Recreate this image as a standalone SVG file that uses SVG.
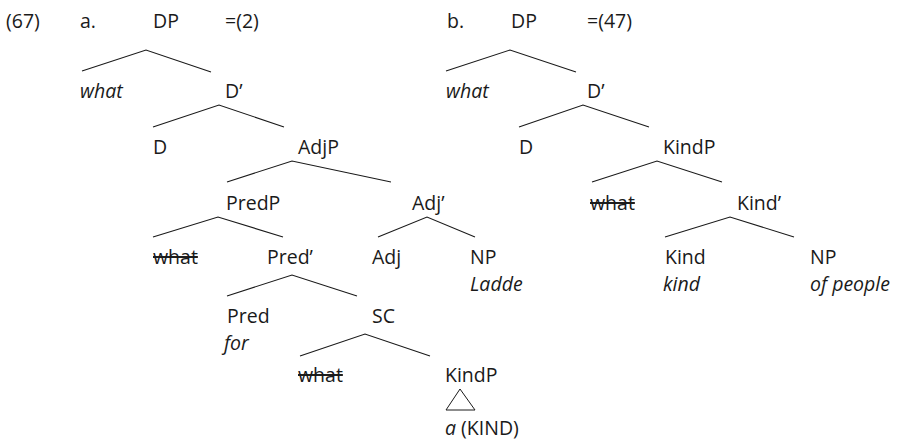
<svg xmlns="http://www.w3.org/2000/svg" width="897" height="442" viewBox="0 0 897 442">
<style>
text{font-family:"Open Sans","Noto Sans","Liberation Sans",sans-serif;font-size:19.5px;fill:#1a1a1a}
.it{font-style:italic}
.st{text-decoration:line-through}
.edge{fill:none;stroke:#1a1a1a;stroke-width:1.1}
.tri{fill:none;stroke:#1a1a1a;stroke-width:1}
</style>
<rect width="897" height="442" fill="#fff"/>
<g id="labels">
<text x="6" y="28">(67)</text>
<text x="80" y="28">a.</text>
<text x="447" y="28">b.</text>
</g>
<g id="connectors">
<polyline class="edge" points="82,71 146,50 211,72"/>
<polyline class="edge" points="153,127 219,105 284,127"/>
<polyline class="edge" points="227,182 292,161 391,182"/>
<polyline class="edge" points="153,237 218,217 283,237"/>
<polyline class="edge" points="378,237 427,217 475,237"/>
<polyline class="edge" points="227,296 292,275 357,296"/>
<polyline class="edge" points="300,356 365,334 430,356"/>
<polygon class="tri" points="460,389 446,410 475,410"/>
<polyline class="edge" points="446,71 510,50 576,72"/>
<polyline class="edge" points="519,127 583,105 649,127"/>
<polyline class="edge" points="592,182 657,161 722,182"/>
<polyline class="edge" points="665,237 730,217 794,237"/>
</g>
<g id="a-DP"><text x="153" y="28">DP</text><text x="225" y="28">=(2)</text></g>
<g id="a-what"><text class="it" x="80" y="98">what</text></g>
<g id="a-Dbar"><text x="225" y="98">D’</text></g>
<g id="a-D"><text x="153" y="154">D</text></g>
<g id="a-AdjP"><text x="298" y="154">AdjP</text></g>
<g id="a-PredP"><text x="226" y="210">PredP</text></g>
<g id="a-Adjbar"><text x="412" y="210">Adj’</text></g>
<g id="a-what2"><text class="st" x="153" y="264">what</text></g>
<g id="a-Predbar"><text x="267" y="264">Pred’</text></g>
<g id="a-Adj"><text x="372" y="264">Adj</text></g>
<g id="a-NP"><text x="470" y="264">NP</text><text class="it" x="470" y="291">Ladde</text></g>
<g id="a-Pred"><text x="227" y="323">Pred</text><text class="it" x="224" y="350">for</text></g>
<g id="a-SC"><text x="372" y="323">SC</text></g>
<g id="a-what3"><text class="st" x="298" y="382">what</text></g>
<g id="a-KindP"><text x="445" y="382">KindP</text><text x="445" y="435"><tspan class="it">a</tspan> (KIND)</text></g>
<g id="b-DP"><text x="511" y="28">DP</text><text x="587" y="28">=(47)</text></g>
<g id="b-what"><text class="it" x="446" y="98">what</text></g>
<g id="b-Dbar"><text x="587" y="98">D’</text></g>
<g id="b-D"><text x="519" y="154">D</text></g>
<g id="b-KindP"><text x="663" y="154">KindP</text></g>
<g id="b-what2"><text class="st" x="590" y="210">what</text></g>
<g id="b-Kindbar"><text x="737" y="210">Kind’</text></g>
<g id="b-Kind"><text x="665" y="264">Kind</text><text class="it" x="663" y="291">kind</text></g>
<g id="b-NP"><text x="810" y="264">NP</text><text class="it" x="810" y="291">of people</text></g>
</svg>
